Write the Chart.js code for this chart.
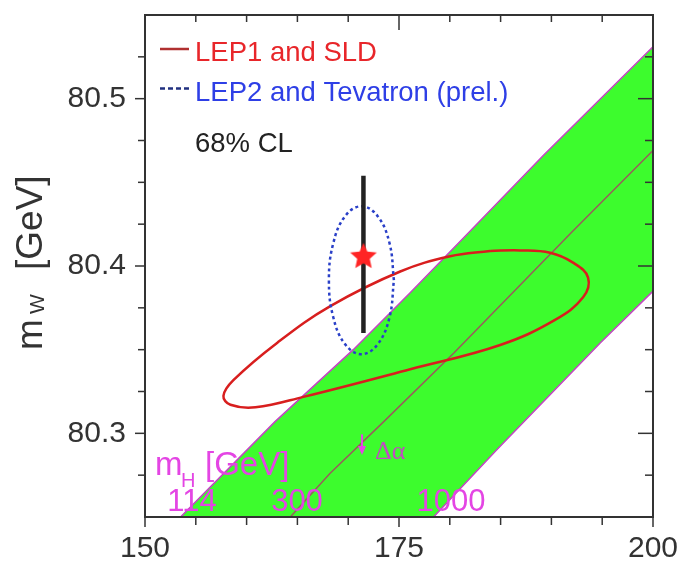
<!DOCTYPE html>
<html><head><meta charset="utf-8">
<style>html,body{margin:0;padding:0;background:#fff;overflow:hidden}</style>
<script src="https://cdn.jsdelivr.net/npm/chart.js@4.4.0/dist/chart.umd.min.js"></script>
</head><body>
<canvas id="c" width="681" height="563" style="display:block;width:681px;height:563px"></canvas>
<script>
// ---- data ----
const xRange = [150, 200];            // m_t [GeV]
const yRange = [80.25, 80.55];        // m_W [GeV]
const xMajorTicks = [150, 175, 200];
const xMinorTicks = [155, 160, 165, 170, 180, 185, 190, 195];
const yMajorTicks = [80.3, 80.4, 80.5];
const yMinorTicks = [80.275, 80.325, 80.35, 80.375, 80.425, 80.45, 80.475, 80.525];

// SM band edges (m_H = 114, 300, 1000 GeV)
const edgeMH114  = [[153.5,80.250],[162.8,80.307],[170.5,80.350],[176.1,80.384],[181.7,80.419],[189.2,80.466],[200.0,80.531]];
const lineMH300  = [[164.3,80.250],[168.2,80.276],[173.5,80.307],[180.4,80.348],[191.8,80.419],[200.0,80.469]];
const edgeMH1000 = [[178.4,80.250],[184.6,80.290],[194.8,80.354],[200.0,80.385]];
const mHLabels = ['114', '300', '1000'];

// LEP1 and SLD 68% CL contour (indirect)
const contourLEP1 = [
  [183.97,80.4090],[186.92,80.4093],[189.87,80.4079],[192.13,80.4020],[193.61,80.3931],[193.12,80.3813],
  [190.36,80.3678],[184.96,80.3528],[176.11,80.3383],[165.59,80.3218],[160.87,80.3156],[158.41,80.3171],
  [157.72,80.3224],[158.70,80.3318],[163.03,80.3542],[168.24,80.3760],[175.12,80.3967],[180.04,80.4058],
  [183.97,80.4090]];
// LEP2 and Tevatron 68% CL contour (direct)
const contourLEP2 = [[174.5,80.3915],[174.07,80.4136],[172.9,80.4298],[171.3,80.4357],[169.7,80.4298],[168.53,80.4136],
  [168.1,80.3915],[168.53,80.3694],[169.7,80.3532],[171.3,80.3473],[172.9,80.3532],[174.07,80.3694],[174.5,80.3915]];
// black vertical bar and star
const mtBar = [[171.5,80.360],[171.5,80.454]];
const starPoint = [[171.5,80.4055]];

const legendLabels = ['LEP1 and SLD', 'LEP2 and Tevatron (prel.)', '68% CL'];

// ---- helpers ----
const xy = arr => arr.map(p => ({x:p[0], y:p[1]}));
const GREEN = '#3dfc2d', EDGE = '#c444c4', MID = '#9a5c5c', MAG = '#e445e4';
function makeStar(r, color){
  const s = Math.ceil(r*2+2), c = document.createElement('canvas');
  c.width = c.height = s;
  const g = c.getContext('2d');
  g.translate(s/2, s/2); g.beginPath();
  for (let i=0;i<10;i++){ const rr = i%2 ? r*0.47 : r; const a = -Math.PI/2 + i*Math.PI/5; g.lineTo(rr*Math.cos(a), rr*Math.sin(a)); }
  g.closePath(); g.fillStyle = color; g.fill();
  return c;
}
const bandLower = [[edgeMH114[0][0], yRange[0]], ...edgeMH1000];

const overlay = {
  id: 'overlay',
  afterDatasetsDraw(chart){
    const {ctx, chartArea:a, scales:{x, y}} = chart;
    ctx.save();
    // frame
    ctx.strokeStyle = '#333'; ctx.lineWidth = 2;
    ctx.strokeRect(a.left, a.top, a.right-a.left, a.bottom-a.top);
    ctx.lineWidth = 1.5;
    const tk = (x1,y1,x2,y2)=>{ctx.beginPath();ctx.moveTo(x1,y1);ctx.lineTo(x2,y2);ctx.stroke();};
    xMajorTicks.forEach(v=>{const p=x.getPixelForValue(v); tk(p,a.bottom,p,a.bottom+10); tk(p,a.top,p,a.top+15);});
    xMinorTicks.forEach(v=>{const p=x.getPixelForValue(v); tk(p,a.bottom,p,a.bottom+8); tk(p,a.top,p,a.top+7);});
    yMajorTicks.forEach(v=>{const p=y.getPixelForValue(v); tk(a.left-10,p,a.left,p); tk(a.right-15,p,a.right,p);});
    yMinorTicks.forEach(v=>{const p=y.getPixelForValue(v); tk(a.left-7,p,a.left,p); tk(a.right-8,p,a.right,p);});

    // legend
    ctx.lineWidth = 2.5;
    ctx.strokeStyle = '#b03030'; tk(160,49,189,49);
    ctx.strokeStyle = '#203080'; ctx.setLineDash([5,3]); tk(160,88.5,189,88.5); ctx.setLineDash([]);
    ctx.textBaseline = 'alphabetic'; ctx.textAlign = 'left';
    ctx.font = '27.5px "Liberation Sans", Arial, sans-serif';
    ctx.fillStyle = '#e8262a'; ctx.fillText(legendLabels[0], 195, 60.5);
    ctx.fillStyle = '#2e3fe6'; ctx.fillText(legendLabels[1], 195, 100.5);
    ctx.fillStyle = '#222';    ctx.fillText(legendLabels[2], 195, 151.5);

    // m_H labels
    ctx.fillStyle = MAG;
    ctx.font = '33px "Liberation Sans", Arial, sans-serif';
    ctx.fillText('m', 155, 475);
    ctx.font = '20px "Liberation Sans", Arial, sans-serif';
    ctx.fillText('H', 181, 487);
    ctx.font = '33px "Liberation Sans", Arial, sans-serif';
    ctx.fillText('[GeV]', 205, 475);
    ctx.font = '31px "Liberation Sans", Arial, sans-serif';
    ctx.textAlign = 'center';
    ctx.fillText(mHLabels[0], 192, 511);
    ctx.fillText(mHLabels[1], 297, 511);
    ctx.fillText(mHLabels[2], 451, 511);

    // delta alpha arrow
    const ax = x.getPixelForValue(171.36), ay1 = y.getPixelForValue(80.2994), ay2 = y.getPixelForValue(80.2876);
    ctx.strokeStyle = MAG; ctx.lineWidth = 2;
    tk(ax, ay1, ax, ay2-6);
    ctx.beginPath(); ctx.moveTo(ax-4, ay2-8); ctx.lineTo(ax+4, ay2-8); ctx.lineTo(ax, ay2+1); ctx.closePath(); ctx.fill();
    ctx.textAlign = 'left'; ctx.fillStyle = '#c24ac2';
    ctx.font = '26px "Liberation Serif", "DejaVu Serif", serif';
    ctx.fillText('\u0394\u03b1', 375, 459);

    // y title m_W [GeV]
    ctx.fillStyle = '#333';
    ctx.translate(42, 350); ctx.rotate(-Math.PI/2);
    ctx.font = '37px "Liberation Sans", Arial, sans-serif';
    ctx.fillText('m', 0, 0);
    ctx.font = '21px "Liberation Sans", Arial, sans-serif';
    ctx.fillText('W', 36, 2);
    ctx.font = '37px "Liberation Sans", Arial, sans-serif';
    ctx.fillText('[GeV]', 80, 0);
    ctx.restore();
  }
};

new Chart(document.getElementById('c'), {
  type: 'line',
  data: { datasets: [
    { data: xy(edgeMH114), borderColor: EDGE, borderWidth: 1.5, backgroundColor: GREEN, fill: '+1', pointRadius: 0, tension: 0, order: 10 },
    { data: xy(bandLower), borderColor: 'rgba(0,0,0,0)', borderWidth: 0, fill: false, pointRadius: 0, tension: 0, order: 11 },
    { data: xy(edgeMH1000), borderColor: EDGE, borderWidth: 1.5, fill: false, pointRadius: 0, tension: 0, order: 10 },
    { data: xy(lineMH300), borderColor: MID, borderWidth: 1.5, fill: false, pointRadius: 0, tension: 0, order: 9 },
    { data: xy(contourLEP1), borderColor: '#d81e1e', borderWidth: 2.5, fill: false, pointRadius: 0, tension: 0.4, order: 3 },
    { data: xy(contourLEP2), borderColor: '#2a40c8', borderWidth: 2.5, borderDash: [3,3], fill: false, pointRadius: 0, tension: 0.4, order: 2 },
    { data: xy(mtBar), borderColor: '#222', borderWidth: 4.5, fill: false, pointRadius: 0, order: 1 },
    { data: xy(starPoint), showLine: false, pointStyle: makeStar(14, '#ff2424'), pointRadius: 14, order: 0 }
  ]},
  options: {
    responsive: false, devicePixelRatio: 1, animation: false,
    layout: { padding: { left: 0, right: 28, top: 8, bottom: 0 } },
    plugins: { legend: { display: false }, tooltip: { enabled: false }, filler: { drawTime: 'beforeDatasetsDraw' } },
    scales: {
      x: { type: 'linear', min: xRange[0], max: xRange[1],
        grid: { display: false, drawTicks: false }, border: { display: false },
        afterBuildTicks: s => { s.ticks = xMajorTicks.map(v => ({value: v})); },
        afterFit: s => { s.height = 46; s.paddingLeft = 0; s.paddingRight = 0; },
        ticks: { padding: 14, color: '#333', font: { family: '"Liberation Sans", Arial, sans-serif', size: 30 }, callback: v => String(v), maxRotation: 0, autoSkip: false } },
      y: { type: 'linear', min: yRange[0], max: yRange[1],
        grid: { display: false, drawTicks: false }, border: { display: false },
        afterBuildTicks: s => { s.ticks = yMajorTicks.map(v => ({value: v})); },
        afterFit: s => { s.width = 145; s.paddingTop = 0; s.paddingBottom = 0; },
        ticks: { padding: 19, color: '#333', font: { family: '"Liberation Sans", Arial, sans-serif', size: 30 }, callback: v => v.toFixed(1), autoSkip: false } }
    }
  },
  plugins: [overlay]
});
</script>
</body></html>
